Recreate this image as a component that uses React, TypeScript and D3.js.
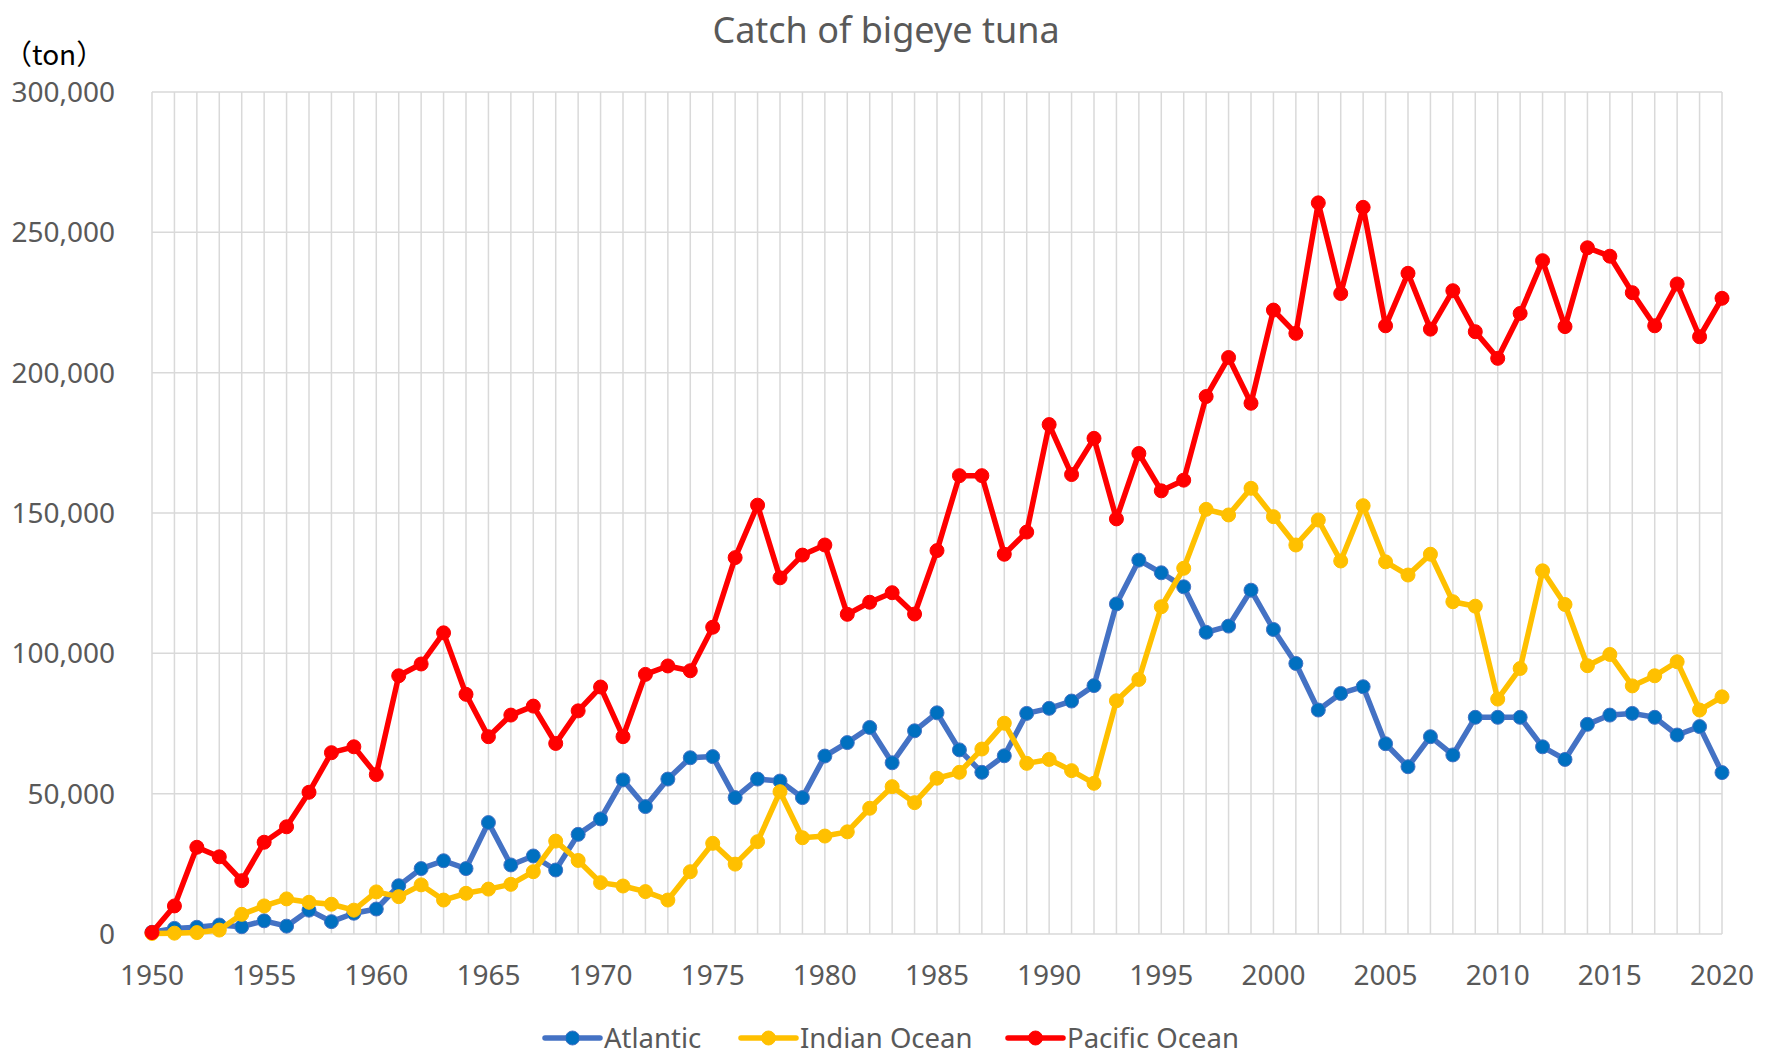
import * as d3 from "d3";
import { useEffect, useRef } from "react";

const years = d3.range(1950, 2021);

const atlantic = [
  600, 2000, 2400, 3200, 2600, 4700, 2800, 8500, 4400, 7400,
  8900, 17200, 23300, 26100, 23300, 39700, 24600, 27800, 22800, 35500,
  41000, 54900, 45400, 55200, 62800, 63200, 48600, 55200, 54500, 48600,
  63400, 68200, 73600, 61000, 72400, 78800, 65600, 57600, 63500, 78600,
  80400, 83000, 88500, 117600, 133200, 128700, 123700, 107500, 109700, 122500,
  108500, 96400, 79800, 85700, 88100, 67800, 59600, 70300, 63800, 77200,
  77200, 77200, 66700, 62200, 74700, 78000, 78600, 77200, 70900, 73900,
  57500,
];

const indian = [
  200, 300, 500, 1400, 7000, 10000, 12500, 11300, 10600, 8500,
  15000, 13300, 17500, 12100, 14500, 16000, 17700, 22200, 33100, 26200,
  18300, 17100, 15100, 12100, 22200, 32300, 24900, 32900, 50700, 34300,
  34900, 36400, 44800, 52500, 46800, 55500, 57600, 65900, 75100, 60800,
  62200, 58200, 53700, 83100, 90700, 116600, 130300, 151300, 149300, 158800,
  148700, 138600, 147500, 132900, 152600, 132600, 127900, 135300, 118400, 116800,
  83700, 94600, 129400, 117400, 95600, 99600, 88400, 92000, 97000, 79800,
  84500,
];

const pacific = [
  500, 10000, 30900, 27500, 19000, 32700, 38200, 50500, 64600, 66700,
  56800, 92000, 96200, 107300, 85400, 70300, 78000, 81200, 67900, 79500,
  88000, 70300, 92500, 95500, 93800, 109300, 134100, 152800, 126900, 135000,
  138600, 113900, 118200, 121600, 114000, 136600, 163300, 163300, 135300, 143200,
  181500, 163700, 176600, 147900, 171200, 157900, 161700, 191500, 205400, 189100,
  222300, 214000, 260500, 228200, 258900, 216700, 235400, 215500, 229200, 214600,
  205100, 221100, 239900, 216400, 244500, 241500, 228500, 216700, 231600, 212800,
  226500,
];

const seriesNames = ["Atlantic", "Indian Ocean", "Pacific Ocean"];
const yTicks = [0, 50000, 100000, 150000, 200000, 250000, 300000];
const xTicks = d3.range(1950, 2021, 5);

const lineColors = ["#4472C4", "#FFC000", "#FF0000"];
const markerColors = ["#0070C0", "#FFC000", "#FF0000"];
const legendX = [545, 741, 1008];

const W = 1767;
const H = 1059;
const font = "'Noto Sans', 'DejaVu Sans', sans-serif";
const textColor = "#595959";

const App = () => {
  const chartRef = useRef<SVGSVGElement>(null);

  useEffect(() => {
    const svg = d3.select(chartRef.current);
    svg.selectAll("*").remove();

    const x = d3.scaleLinear().domain([1950, 2020]).range([152, 1722]);
    const y = d3.scaleLinear().domain([0, 300000]).range([934, 92]);

    svg.append("rect").attr("width", W).attr("height", H).attr("fill", "#fff");

    // grid
    const grid = svg.append("g").attr("stroke", "#D9D9D9").attr("stroke-width", 1.5);
    grid.selectAll(".vg")
      .data(years)
      .enter()
      .append("line")
      .attr("x1", d => x(d)).attr("x2", d => x(d))
      .attr("y1", y(300000)).attr("y2", y(0));
    grid.selectAll(".hg")
      .data(yTicks)
      .enter()
      .append("line")
      .attr("x1", x(1950)).attr("x2", x(2020))
      .attr("y1", d => y(d)).attr("y2", d => y(d));

    // y labels
    svg.append("g")
      .selectAll("text")
      .data(yTicks)
      .enter()
      .append("text")
      .attr("x", 115)
      .attr("y", d => y(d))
      .attr("dy", "0.36em")
      .attr("text-anchor", "end")
      .attr("font-family", font)
      .attr("font-size", 28)
      .attr("fill", textColor)
      .text(d => d3.format(",")(d));

    // x labels
    svg.append("g")
      .selectAll("text")
      .data(xTicks)
      .enter()
      .append("text")
      .attr("x", d => x(d))
      .attr("y", 975)
      .attr("dy", "0.36em")
      .attr("text-anchor", "middle")
      .attr("font-family", font)
      .attr("font-size", 28)
      .attr("fill", textColor)
      .text(d => d);

    // series
    const allSeries = [atlantic, indian, pacific];
    const line = d3.line<number>()
      .x((d, i) => x(years[i]))
      .y(d => y(d));

    allSeries.forEach((vals, k) => {
      const g = svg.append("g");
      g.append("path")
        .attr("d", line(vals))
        .attr("fill", "none")
        .attr("stroke", lineColors[k])
        .attr("stroke-width", 5.5)
        .attr("stroke-linejoin", "round");
      g.selectAll("circle")
        .data(vals)
        .enter()
        .append("circle")
        .attr("cx", (d, i) => x(years[i]))
        .attr("cy", d => y(d))
        .attr("r", 7)
        .attr("fill", markerColors[k])
        .attr("stroke", lineColors[k])
        .attr("stroke-width", 1);
    });

    // title
    svg.append("text")
      .attr("x", 886)
      .attr("y", 30)
      .attr("dy", "0.36em")
      .attr("text-anchor", "middle")
      .attr("font-family", font)
      .attr("font-size", 36)
      .attr("fill", textColor)
      .text("Catch of bigeye tuna");

    // unit
    svg.append("text")
      .attr("x", 4)
      .attr("y", 55)
      .attr("dy", "0.36em")
      .attr("font-family", "'Noto Sans CJK JP', 'Noto Sans', sans-serif")
      .attr("font-size", 28)
      .attr("fill", "#000")
      .text("（ton）");

    // legend
    const legend = svg.append("g");
    seriesNames.forEach((name, k) => {
      const lx = legendX[k];
      legend.append("line")
        .attr("x1", lx).attr("x2", lx + 55)
        .attr("y1", 1038).attr("y2", 1038)
        .attr("stroke", lineColors[k])
        .attr("stroke-width", 5.5)
        .attr("stroke-linecap", "round");
      legend.append("circle")
        .attr("cx", lx + 27.5).attr("cy", 1038)
        .attr("r", 7)
        .attr("fill", markerColors[k])
        .attr("stroke", lineColors[k]);
      legend.append("text")
        .attr("x", lx + 59)
        .attr("y", 1038)
        .attr("dy", "0.36em")
        .attr("font-family", font)
        .attr("font-size", 27.5)
        .attr("fill", textColor)
        .text(name);
    });
  }, []);

  return (
    <svg
      ref={chartRef}
      width={W}
      height={H}
      style={{ position: "absolute", left: 0, top: 0 }}
    ></svg>
  );
};

export default App;
